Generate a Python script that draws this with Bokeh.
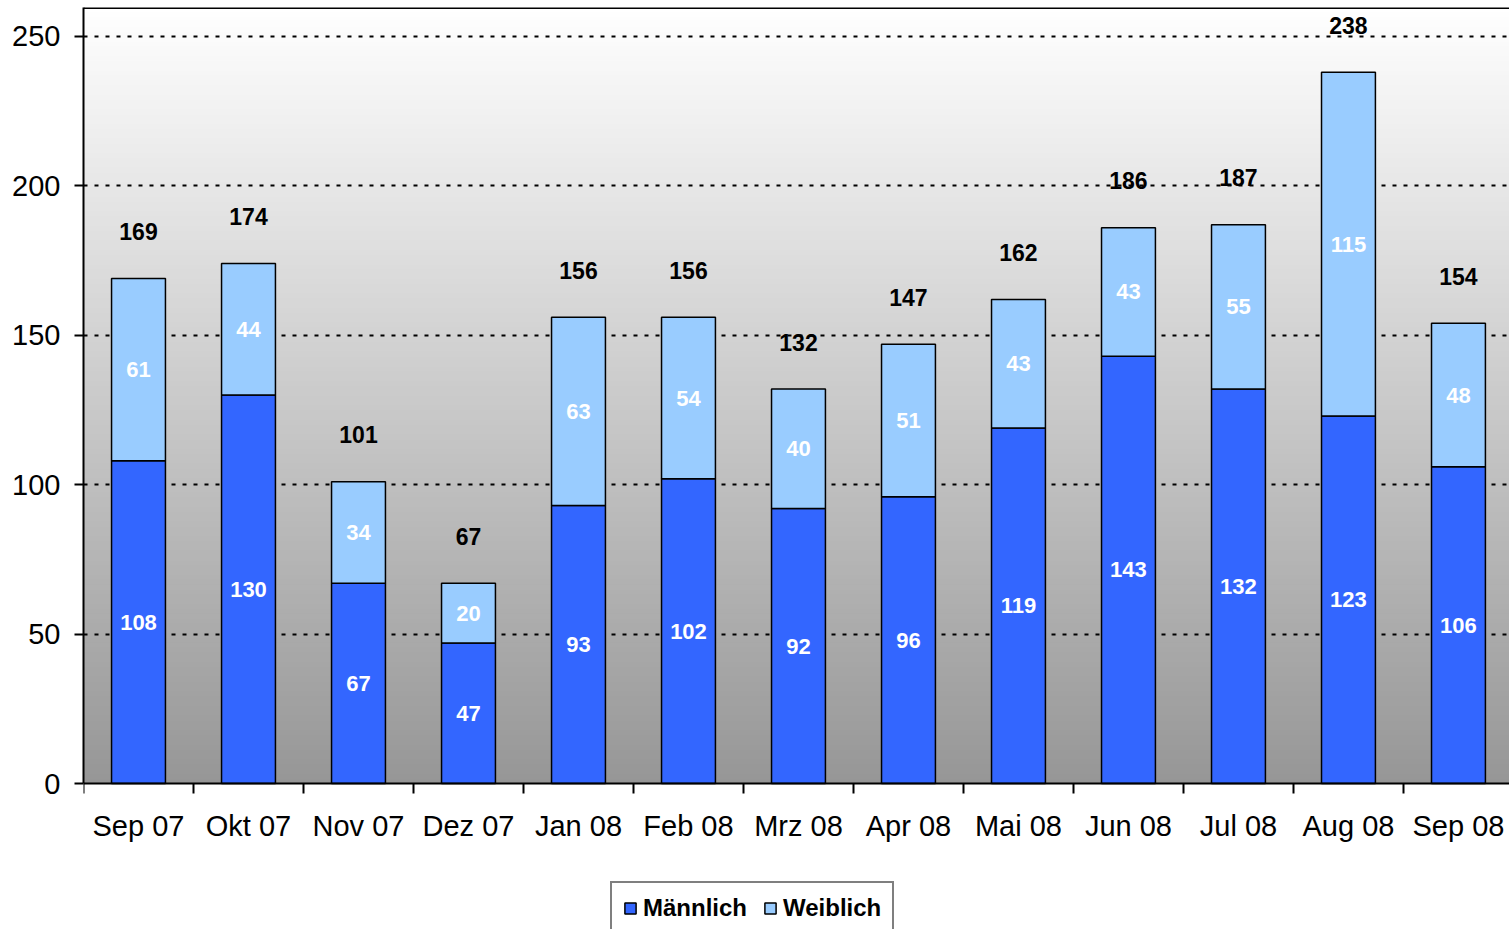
import numpy as np
from bokeh.plotting import figure
from bokeh.models import (Range1d, FixedTicker, ColumnDataSource, Legend, LegendItem, Span)
from bokeh.core.properties import value
from bokeh.embed import file_html
from bokeh.resources import INLINE

months = ["Sep 07", "Okt 07", "Nov 07", "Dez 07", "Jan 08", "Feb 08", "Mrz 08",
          "Apr 08", "Mai 08", "Jun 08", "Jul 08", "Aug 08", "Sep 08"]
maennlich = [108, 130, 67, 47, 93, 102, 92, 96, 119, 143, 132, 123, 106]
weiblich = [61, 44, 34, 20, 63, 54, 40, 51, 43, 43, 55, 115, 48]
y_ticks = [0, 50, 100, 150, 200, 250]

FONT = "Liberation Sans"
n = len(months)
x = np.arange(n) + 0.5
m = np.array(maennlich)
w = np.array(weiblich)
tot = m + w

Y_END = 259.7
Y_START = -48.86
X_END = 12.964

p = figure(width=1509, height=929, output_backend="svg", toolbar_location=None,
           x_range=Range1d(0, X_END), y_range=Range1d(Y_START, Y_END),
           min_border_left=83, min_border_right=0, min_border_top=7, min_border_bottom=0)
p.outline_line_color = None
p.background_fill_color = "white"
p.border_fill_color = "white"

# vertical gradient background (white at top -> grey at bottom), only above y=0
nst = 160
edges = np.linspace(0, Y_END, nst + 1)
frac = 1 - (edges[:-1] + edges[1:]) / 2 / Y_END
cols = []
for f in frac:
    g = int(round(255 - (255 - 150) * f))
    cols.append("#%02x%02x%02x" % (g, g, g))
p.quad(left=0, right=X_END + 1, bottom=edges[:-1], top=Y_END + 5,
       fill_color=cols, line_color=None, level="image")

# top border of the plot area
p.add_layout(Span(location=Y_END, dimension="width", line_color="black", line_width=3))

src = ColumnDataSource(dict(x=x, m=m, w=w, tot=tot, mid_m=m / 2, mid_w=m + w / 2,
                            lm=[str(v) for v in m], lw=[str(v) for v in w],
                            lt=[str(v) for v in tot]))

r_m = p.vbar(x="x", bottom=0, top="m", width=0.49, source=src,
             fill_color="#3366FF", line_color="black", line_width=1.5)
r_w = p.vbar(x="x", bottom="m", top="tot", width=0.49, source=src,
             fill_color="#99CCFF", line_color="black", line_width=1.5)

p.text(x="x", y="mid_m", text="lm", source=src, text_align="center", text_baseline="middle",
       text_color="white", text_font=value(FONT), text_font_style="bold", text_font_size="22px")
p.text(x="x", y="mid_w", text="lw", source=src, text_align="center", text_baseline="middle",
       text_color="white", text_font=value(FONT), text_font_style="bold", text_font_size="22px")
p.text(x="x", y="tot", text="lt", source=src, text_align="center", text_baseline="middle",
       y_offset=-47, text_color="black", text_font=value(FONT), text_font_style="bold",
       text_font_size="23px")

# x axis drawn at y = 0
p.xaxis.fixed_location = 0
p.xaxis.ticker = FixedTicker(ticks=list(x), minor_ticks=list(range(n + 1)))
p.xaxis.major_label_overrides = {float(xx): mm for xx, mm in zip(x, months)}
p.xaxis.major_tick_out = 0
p.xaxis.major_tick_in = 0
p.xaxis.minor_tick_out = 10
p.xaxis.minor_tick_in = 0
p.xaxis.minor_tick_line_color = "black"
p.xaxis.minor_tick_line_width = 2
p.xaxis.axis_line_color = "black"
p.xaxis.axis_line_width = 2
p.xaxis.major_label_standoff = 16
p.xaxis.major_label_text_font = FONT
p.xaxis.major_label_text_font_size = "29px"
p.xaxis.major_label_text_color = "black"

p.yaxis.bounds = (0, Y_END)
p.yaxis.ticker = FixedTicker(ticks=y_ticks)
p.yaxis.minor_tick_line_color = None
p.yaxis.major_tick_out = 9
p.yaxis.major_tick_in = 0
p.yaxis.major_tick_line_color = "black"
p.yaxis.major_tick_line_width = 2
p.yaxis.axis_line_color = "black"
p.yaxis.axis_line_width = 2
p.yaxis.major_label_standoff = 14
p.yaxis.major_label_text_font = FONT
p.yaxis.major_label_text_font_size = "29px"
p.yaxis.major_label_text_color = "black"

p.xgrid.grid_line_color = None
p.ygrid.ticker = FixedTicker(ticks=y_ticks[1:])
p.ygrid.grid_line_color = "black"
p.ygrid.grid_line_width = 2
p.ygrid.grid_line_dash = "4 7"

legend = Legend(items=[LegendItem(label="Männlich", renderers=[r_m]),
                       LegendItem(label="Weiblich", renderers=[r_w])],
                orientation="horizontal", location=(527, -6),
                glyph_width=14, glyph_height=14, label_standoff=6, spacing=16,
                padding=11, margin=0,
                label_text_font=FONT, label_text_font_style="bold",
                label_text_font_size="24px", label_text_color="black",
                border_line_color="black", border_line_width=2,
                background_fill_color="white", background_fill_alpha=1)
p.add_layout(legend, "center")

open("out.html", "w").write(file_html(p, INLINE))
